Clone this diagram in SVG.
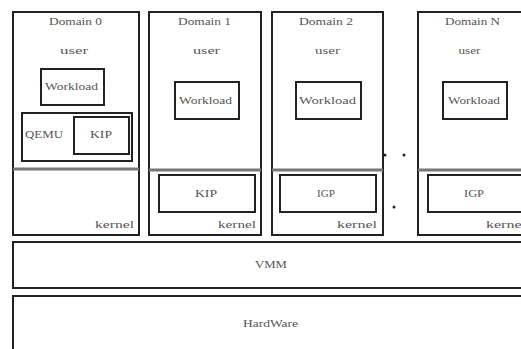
<svg xmlns="http://www.w3.org/2000/svg" width="521" height="349" viewBox="0 0 521 349">
<style>
.box{fill:#fff;stroke:#222;stroke-width:2}
.inner{fill:none;stroke:#222;stroke-width:2}
.div{stroke:#777;stroke-width:3}
text{font-family:"Liberation Serif","Times New Roman",serif;font-size:9.5px;fill:#555;text-anchor:middle}
.dot{fill:#222}
</style>
<rect width="521" height="349" fill="#fff"/>
<g id="domain0">
<rect class="box" x="13" y="12" width="126" height="223"/>
<line class="div" x1="13" y1="169" x2="139" y2="169"/>
<text x="75.5" y="25" textLength="53" lengthAdjust="spacingAndGlyphs">Domain 0</text>
<text x="74" y="54" textLength="28" lengthAdjust="spacingAndGlyphs">user</text>
<rect class="inner" x="41" y="69" width="63" height="36"/>
<text x="71.5" y="90" textLength="53" lengthAdjust="spacingAndGlyphs">Workload</text>
<rect class="inner" x="22" y="113" width="110" height="48"/>
<text x="44" y="138" textLength="38" lengthAdjust="spacingAndGlyphs">QEMU</text>
<rect class="inner" x="74" y="117" width="55" height="37"/>
<text x="101" y="138" textLength="22" lengthAdjust="spacingAndGlyphs">KIP</text>
<text x="114.5" y="228" textLength="39" lengthAdjust="spacingAndGlyphs">kernel</text>
</g>
<g id="domain1">
<rect class="box" x="149" y="12" width="112" height="223"/>
<line class="div" x1="149" y1="170" x2="261" y2="170"/>
<text x="204.5" y="25" textLength="53" lengthAdjust="spacingAndGlyphs">Domain 1</text>
<text x="206.5" y="54" textLength="27" lengthAdjust="spacingAndGlyphs">user</text>
<rect class="inner" x="175" y="82" width="64" height="37"/>
<text x="205.5" y="104" textLength="53" lengthAdjust="spacingAndGlyphs">Workload</text>
<rect class="inner" x="159" y="175" width="96" height="37"/>
<text x="206" y="197" textLength="22" lengthAdjust="spacingAndGlyphs">KIP</text>
<text x="237" y="228" textLength="38" lengthAdjust="spacingAndGlyphs">kernel</text>
</g>
<g id="domain2">
<rect class="box" x="272" y="12" width="111" height="223"/>
<line class="div" x1="272" y1="170" x2="383" y2="170"/>
<text x="326" y="25" textLength="54" lengthAdjust="spacingAndGlyphs">Domain 2</text>
<text x="327.5" y="54" textLength="25" lengthAdjust="spacingAndGlyphs">user</text>
<rect class="inner" x="296" y="82" width="65" height="37"/>
<text x="327.5" y="104" textLength="57" lengthAdjust="spacingAndGlyphs">Workload</text>
<rect class="inner" x="280" y="175" width="96" height="37"/>
<text x="326" y="197" textLength="18" lengthAdjust="spacingAndGlyphs">IGP</text>
<text x="357" y="228" textLength="40" lengthAdjust="spacingAndGlyphs">kernel</text>
</g>
<g id="domainN">
<rect class="box" x="418" y="12" width="114" height="223"/>
<line class="div" x1="418" y1="170" x2="532" y2="170"/>
<text x="472.5" y="25" textLength="55" lengthAdjust="spacingAndGlyphs">Domain N</text>
<text x="469.5" y="54" textLength="22" lengthAdjust="spacingAndGlyphs">user</text>
<rect class="inner" x="443" y="82" width="64" height="37"/>
<text x="474" y="104" textLength="52" lengthAdjust="spacingAndGlyphs">Workload</text>
<rect class="inner" x="428" y="175" width="100" height="37"/>
<text x="474" y="197" textLength="20" lengthAdjust="spacingAndGlyphs">IGP</text>
<text x="506" y="228" textLength="40" lengthAdjust="spacingAndGlyphs">kernel</text>
</g>
<g id="dots">
<circle class="dot" cx="385" cy="155" r="1.5"/>
<circle class="dot" cx="404" cy="155" r="1.5"/>
<circle class="dot" cx="394" cy="207" r="1.5"/>
</g>
<g id="vmm">
<rect class="box" x="13" y="242" width="520" height="46"/>
<text x="271" y="268" textLength="32" lengthAdjust="spacingAndGlyphs">VMM</text>
</g>
<g id="hardware">
<rect class="box" x="13" y="296" width="520" height="60"/>
<text x="270.5" y="327" textLength="55" lengthAdjust="spacingAndGlyphs">HardWare</text>
</g>
<g id="connectors"></g>
</svg>
